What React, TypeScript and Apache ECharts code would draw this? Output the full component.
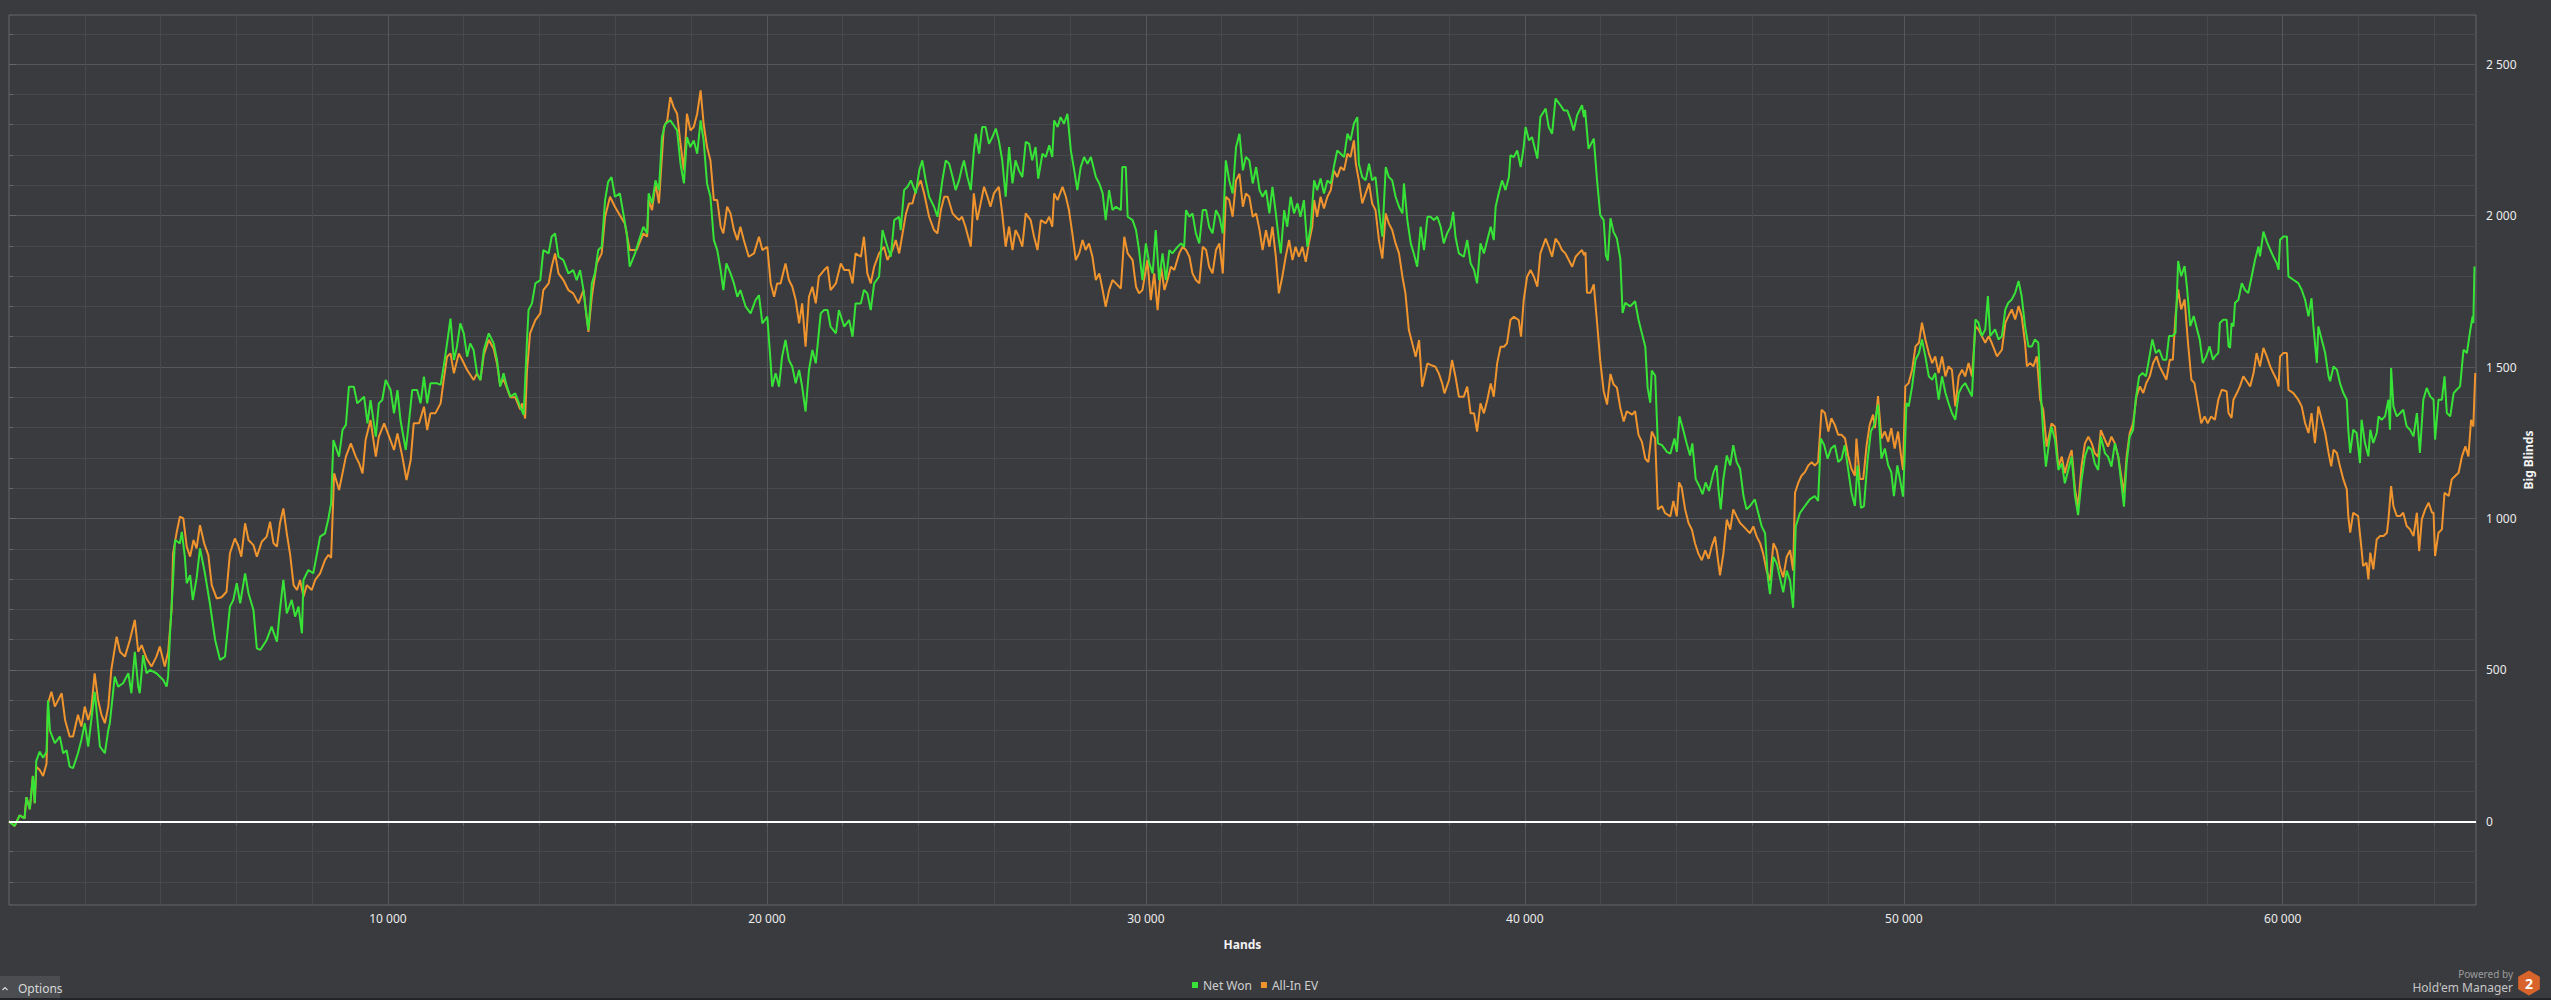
import React, { useEffect, useRef } from "react";
import * as echarts from "echarts";

// ---------- DATA (hands, big blinds) ----------
const netWonA = [[0,0],[150,-15],[280,20],[410,10],[460,80],[550,40],[630,150],[680,60],[720,200],[810,230],[900,210],[990,230],[1030,400],[1080,300],[1210,258],[1340,280],[1430,225],[1520,235],[1600,181],[1690,176],[1820,225],[1910,269],[2000,324],[2090,247],[2260,428],[2300,379],[2400,247],[2530,225],[2620,302],[2660,324],[2790,478],[2880,445],[3010,456],[3150,489],[3230,423],[3320,560],[3410,445],[3450,423],[3540,549],[3630,489],[3720,500],[3890,489],[4070,467],[4160,445],[4200,480],[4250,621],[4330,797],[4380,929],[4510,918],[4560,956],[4640,874],[4690,786],[4780,813],[4850,731],[4950,802],[5040,901],[5170,819],[5300,720],[5440,599],[5570,533],[5700,544],[5830,709],[5920,731],[6010,786],[6100,720],[6230,819],[6320,753],[6450,698],[6540,571],[6630,566],[6800,599],[6930,643],[7070,593],[7150,698],[7240,797],[7330,687],[7460,731],[7550,676],[7640,709],[7730,621],[7770,797],[7900,830],[8030,819],[8210,940],[8340,951],[8430,1000],[8500,1050],[8560,1259],[8710,1204],[8800,1292],[8890,1309],[8970,1435],[9100,1435],[9190,1380],[9280,1391],[9370,1402],[9460,1314],[9540,1391],[9680,1270],[9760,1380],[9850,1391],[9940,1457],[10070,1424],[10160,1347],[10250,1424],[10330,1325],[10470,1226],[10550,1314],[10640,1424],[10770,1424],[10860,1380],[10950,1468],[11035,1380],[11120,1446],[11300,1446],[11390,1441],[11470,1501],[11560,1578],[11650,1660],[11740,1523],[11820,1567],[11910,1644],[12000,1611],[12090,1534],[12170,1578],[12260,1556],[12350,1479],[12440,1457],[12530,1556],[12660,1611],[12790,1578],[12880,1523],[12960,1435],[13050,1479],[13140,1435],[13230,1402],[13360,1413],[13490,1369],[13580,1342],[13670,1589],[13710,1688],[13800,1710],[13890,1776],[14020,1787],[14100,1886],[14240,1875],[14320,1930],[14410,1941],[14500,1864],[14630,1853],[14760,1809],[14890,1820],[14980,1787],[15070,1820],[15160,1754],[15240,1666],[15290,1622],[15380,1776],[15460,1809],[15550,1886],[15640,1897],[15730,2051],[15810,2111],[15900,2127],[15990,2062],[16120,2073],[16210,2007],[16300,1941],[16380,1831],[16520,1875],[16600,1908],[16740,1963]];
const netWonB = [[16840,1941],[16880,2073],[16970,2040],[17060,2116],[17150,2084],[17230,2259],[17320,2303],[17450,2314],[17540,2298],[17630,2281],[17720,2171],[17810,2106],[17890,2259],[17980,2226],[18070,2248],[18160,2204],[18250,2314],[18330,2248],[18420,2106],[18510,2062],[18600,1919],[18690,1886],[18780,1820],[18850,1754],[18930,1842],[19040,1809],[19130,1776],[19220,1732],[19300,1754],[19440,1699],[19570,1677],[19700,1721],[19790,1737],[19880,1644],[20010,1666],[20100,1512],[20140,1435],[20230,1479],[20320,1435],[20400,1534],[20490,1589],[20580,1523],[20670,1501],[20760,1446],[20850,1490],[20930,1435],[21020,1353],[21110,1490],[21200,1556],[21290,1512],[21420,1677],[21510,1688],[21600,1688],[21680,1633],[21820,1611],[21900,1688],[22040,1633],[22170,1655],[22260,1600],[22340,1710],[22480,1710],[22560,1754],[22650,1743],[22740,1688],[22830,1776],[22960,1798],[23050,1952],[23180,1897],[23270,1864],[23360,1985],[23490,1996],[23530,1952],[23620,2084],[23710,2095],[23800,2116],[23930,2073],[24020,2149],[24100,2182],[24190,2116],[24280,2062],[24410,2029],[24500,1996],[24630,2116],[24720,2182],[24810,2171],[24900,2127],[24980,2084],[25070,2116],[25150,2160],[25200,2182],[25290,2127],[25380,2084],[25460,2210],[25510,2270],[25600,2204],[25680,2292],[25770,2292],[25860,2237],[25950,2259],[26040,2287],[26120,2248],[26210,2182],[26300,2062],[26390,2226],[26480,2106],[26560,2182],[26650,2149],[26740,2127],[26830,2243],[26920,2237],[27000,2182],[27090,2226],[27160,2122],[27270,2204],[27360,2193],[27450,2232],[27530,2193],[27580,2314],[27670,2292],[27750,2325],[27840,2303],[27930,2336],[28020,2215],[28110,2149],[28190,2084],[28280,2160],[28370,2193],[28460,2171],[28550,2193],[28680,2127],[28770,2106],[28860,2073],[28940,1985],[29030,2084],[29120,2018],[29210,2029],[29340,2018],[29380,2160],[29470,2160],[29520,1996],[29650,1985],[29740,1952],[29820,1886],[29910,1787],[30000,1908],[30090,1842],[30180,1809],[30260,1952],[30350,1787],[30440,1875],[30530,1787],[30620,1886],[30700,1875],[30840,1897],[30930,1908],[31010,1897],[31060,2018],[31150,1996],[31230,2007],[31320,1941],[31410,1908],[31500,2018],[31590,2018],[31670,1963],[31760,1941],[31850,2018],[31940,1996],[32030,1941],[32110,2182],[32200,2116],[32290,2073],[32380,2226],[32470,2270],[32560,2149],[32640,2193],[32730,2182],[32820,2106],[32910,2160],[33000,2084],[33080,2062],[33170,2084],[33260,2007]];
const netWonC = [[33340,2095],[33430,2007],[33510,1919],[33560,1875],[33650,2018],[33730,1963],[33820,2062],[33910,2007],[34000,2040],[34080,1996],[34170,2051],[34260,1897],[34350,1963],[34440,2116],[34520,2084],[34610,2122],[34700,2073],[34790,2116],[34880,2106],[34960,2160],[35050,2215],[35140,2204],[35230,2193],[35320,2270],[35400,2248],[35490,2303],[35580,2325],[35620,2171],[35710,2127],[35800,2116],[35890,2171],[35970,2116],[36060,2127],[36150,2018],[36240,1930],[36330,2160],[36410,2127],[36500,2116],[36590,2062],[36680,2029],[36770,2007],[36810,2106],[36900,1985],[36990,1908],[37070,1875],[37160,1831],[37250,1963],[37340,1886],[37430,1996],[37510,1996],[37600,1985],[37690,1996],[37780,1963],[37860,1908],[37950,1941],[38040,1963],[38110,2012],[38170,1930],[38260,1875],[38390,1864],[38480,1919],[38570,1842],[38660,1820],[38740,1776],[38830,1908],[38920,1875],[39010,1919],[39100,1963],[39180,1919],[39230,2029],[39310,2073],[39400,2116],[39490,2084],[39580,2127],[39620,2199],[39710,2193],[39800,2215],[39890,2160],[39970,2226],[40020,2292],[40110,2248],[40190,2259],[40330,2188],[40410,2325],[40550,2353],[40630,2292],[40720,2270],[40810,2386],[40940,2364],[41030,2347],[41120,2347],[41200,2320],[41290,2281],[41380,2331],[41510,2364],[41560,2325],[41590,2349],[41680,2220],[41820,2254],[41900,2125],[41990,2002],[42080,1985],[42140,1868],[42190,1851],[42260,1991],[42340,1946],[42430,1924],[42520,1857],[42580,1678],[42650,1712],[42780,1700],[42910,1717],[43000,1656],[43090,1611],[43180,1566],[43240,1432],[43310,1382],[43350,1488],[43440,1471],[43510,1248],[43620,1242],[43750,1220],[43840,1214],[43950,1264],[44010,1220],[44080,1337],[44170,1298],[44270,1248],[44360,1208],[44420,1248],[44510,1130],[44600,1108],[44690,1080],[44770,1119],[44860,1091],[44980,1153],[45060,1175],[45110,1097],[45170,1030],[45240,1130],[45330,1208],[45420,1175],[45500,1242],[45590,1186],[45680,1164],[45770,1074],[45850,1030],[45940,1041],[46070,1063],[46160,1018],[46250,974],[46340,951],[46410,806],[46470,750],[46560,873],[46650,851],[46730,806],[46820,756],[46910,828],[47000,795],[47080,705],[47150,974],[47260,1018],[47390,1041],[47520,1063],[47650,1074],[47740,1058],[47810,1264],[47900,1242],[47990,1197],[48080,1231],[48180,1242],[48270,1186],[48360,1197],[48440,1242],[48530,1164],[48620,1085],[48710,1041],[48780,1175],[48870,1035],[48950,1041],[49040,1186],[49130,1287],[49220,1309],[49320,1376],[49410,1197],[49500,1231],[49590,1175],[49670,1153],[49740,1074],[49830,1175],[49920,1116],[49980,1072],[50020,1193]];
const netWonD = [[50070,1381],[50130,1370],[50220,1436],[50310,1524],[50400,1546],[50480,1591],[50570,1535],[50660,1469],[50750,1458],[50830,1480],[50920,1392],[51010,1469],[51100,1414],[51180,1381],[51270,1348],[51360,1326],[51450,1414],[51540,1436],[51620,1447],[51710,1425],[51800,1403],[51890,1657],[51970,1646],[52060,1602],[52150,1624],[52220,1734],[52280,1602],[52410,1624],[52500,1591],[52590,1602],[52680,1690],[52760,1712],[52850,1723],[52940,1745],[53030,1784],[53110,1734],[53200,1635],[53290,1568],[53380,1568],[53460,1591],[53550,1580],[53600,1447],[53680,1281],[53750,1171],[53820,1237],[53900,1303],[53990,1259],[54080,1160],[54170,1182],[54250,1116],[54340,1160],[54430,1204],[54520,1072],[54600,1011],[54690,1127],[54780,1204],[54870,1237],[54960,1226],[55040,1182],[55130,1160],[55200,1270],[55310,1215],[55390,1204],[55480,1171],[55570,1248],[55660,1204],[55740,1116],[55810,1039],[55880,1182],[55960,1270],[56050,1292],[56120,1392],[56210,1469],[56300,1480],[56390,1469],[56470,1524],[56560,1591],[56650,1546],[56740,1557],[56840,1524],[56930,1524],[57000,1602],[57090,1602],[57170,1613],[57240,1850],[57320,1800],[57410,1833],[57470,1767],[57560,1635],[57650,1668],[57740,1624],[57810,1591],[57890,1513],[57980,1535],[58070,1568],[58160,1524],[58210,1535],[58300,1546],[58340,1645],[58430,1656],[58520,1656],[58570,1568],[58610,1563],[58650,1645],[58700,1634],[58740,1711],[58830,1722],[58920,1777],[59000,1755],[59090,1744],[59180,1799],[59270,1854],[59360,1898],[59400,1865],[59490,1947],[59580,1914],[59670,1887],[59750,1865],[59840,1843],[59890,1821],[59930,1920],[60020,1931],[60110,1931],[60150,1799],[60280,1788],[60410,1777],[60500,1755],[60590,1722],[60680,1667],[60760,1727],[60810,1634],[60900,1513],[60940,1634],[61030,1590],[61120,1546],[61210,1469],[61250,1453],[61340,1502],[61430,1491],[61510,1447],[61600,1414],[61690,1392],[61730,1293],[61780,1216],[61860,1293],[61950,1282],[62040,1183],[62080,1326],[62170,1249],[62260,1205],[62310,1293],[62390,1249],[62480,1282],[62530,1337],[62610,1326],[62700,1337],[62790,1392],[62830,1293],[62860,1497],[62920,1370],[63010,1337],[63100,1348],[63180,1359],[63270,1304],[63360,1293],[63450,1271],[63540,1348],[63620,1216],[63710,1392],[63800,1431],[63890,1403],[63980,1392],[64020,1260],[64110,1392],[64200,1392],[64270,1469],[64330,1348],[64420,1337],[64510,1414],[64590,1425],[64680,1436],[64770,1557],[64860,1546],[64950,1623],[65010,1667],[65030,1645],[65060,1832]];

const allInEvA = [[0,0],[150,-15],[280,20],[410,10],[460,80],[550,40],[630,150],[680,60],[720,180],[810,170],[900,150],[990,190],[1030,390],[1120,428],[1210,379],[1300,401],[1390,423],[1480,335],[1600,280],[1690,280],[1820,352],[1910,313],[2000,379],[2090,335],[2170,368],[2260,489],[2350,401],[2440,352],[2530,324],[2620,379],[2700,500],[2840,610],[2930,560],[3060,544],[3190,599],[3320,665],[3410,560],[3500,582],[3630,538],[3760,511],[3890,544],[3980,577],[4110,511],[4200,560],[4290,698],[4330,885],[4420,951],[4510,1006],[4600,1000],[4690,907],[4780,874],[4870,929],[4950,901],[5040,978],[5150,918],[5260,879],[5350,780],[5480,736],[5610,740],[5740,758],[5830,885],[5960,934],[6050,910],[6130,874],[6230,984],[6320,929],[6450,912],[6540,874],[6670,923],[6800,940],[6890,989],[6980,918],[7070,907],[7150,984],[7240,1033],[7330,951],[7420,880],[7510,780],[7600,764],[7680,797],[7770,742],[7860,780],[7990,764],[8080,797],[8210,819],[8340,863],[8430,880],[8500,870],[8580,1149],[8710,1094],[8800,1149],[8890,1204],[9020,1248],[9150,1204],[9240,1182],[9330,1149],[9410,1259],[9540,1325],[9680,1204],[9760,1270],[9900,1314],[10030,1270],[10160,1226],[10250,1281],[10380,1204],[10490,1127],[10600,1193],[10680,1314],[10820,1314],[10950,1369],[11035,1292],[11120,1347],[11250,1347],[11390,1380],[11470,1457],[11560,1534],[11650,1545],[11740,1479],[11870,1545],[11960,1523],[12090,1490],[12260,1457],[12350,1479],[12440,1457],[12530,1540],[12660,1590],[12790,1560],[12880,1510],[12960,1440],[13050,1460],[13140,1430],[13230,1400],[13360,1400],[13490,1360],[13540,1380],[13620,1330],[13670,1490],[13750,1611],[13890,1655],[14020,1677],[14100,1754],[14240,1776],[14320,1831],[14410,1875],[14500,1809],[14630,1787],[14760,1754],[14890,1743],[15030,1710],[15160,1754],[15290,1616],[15380,1732],[15510,1842],[15640,1875],[15730,1996],[15860,2062],[15990,2029],[16120,2001],[16250,1974],[16380,1886],[16560,1886],[16740,1941]];
const allInEvB = [[16840,1930],[16880,2051],[16970,2018],[17060,2106],[17150,2040],[17280,2292],[17370,2314],[17450,2391],[17540,2358],[17630,2336],[17720,2237],[17810,2149],[17890,2336],[17980,2281],[18070,2292],[18160,2336],[18250,2413],[18330,2303],[18420,2226],[18510,2182],[18600,2051],[18690,2051],[18780,1963],[18850,1941],[18950,2029],[19040,2007],[19130,1952],[19220,1919],[19300,1963],[19390,1919],[19520,1864],[19660,1875],[19790,1930],[19880,1886],[20010,1897],[20100,1776],[20190,1732],[20270,1776],[20360,1776],[20490,1842],[20580,1787],[20670,1765],[20760,1721],[20850,1644],[20930,1710],[21020,1567],[21110,1732],[21200,1765],[21290,1710],[21370,1798],[21510,1820],[21600,1831],[21680,1754],[21820,1776],[21950,1842],[22040,1820],[22170,1820],[22260,1776],[22340,1875],[22480,1864],[22560,1930],[22650,1809],[22740,1776],[22830,1831],[22960,1875],[23090,1897],[23180,1853],[23310,1886],[23400,1919],[23490,1875],[23580,1941],[23670,2007],[23750,2040],[23840,2040],[23930,2084],[24060,2116],[24150,2073],[24280,1996],[24410,1952],[24500,1941],[24590,2018],[24680,2062],[24770,2062],[24900,2007],[24980,1996],[25070,1985],[25150,1996],[25240,1963],[25380,1897],[25460,2073],[25550,1985],[25640,2040],[25730,2095],[25820,2062],[25900,2029],[25990,2073],[26120,2095],[26210,2007],[26300,1897],[26390,1963],[26480,1886],[26560,1952],[26650,1930],[26740,1897],[26830,2007],[26960,1985],[27050,1930],[27140,1886],[27230,1985],[27360,1974],[27450,1996],[27530,1963],[27580,2073],[27670,2051],[27800,2095],[27890,2062],[27970,2018],[28060,1941],[28150,1853],[28240,1875],[28330,1919],[28410,1886],[28500,1908],[28590,1864],[28680,1787],[28770,1809],[28860,1754],[28940,1699],[29030,1754],[29120,1787],[29210,1776],[29340,1759],[29430,1930],[29520,1875],[29650,1853],[29740,1765],[29820,1743],[29910,1754],[30040,1853],[30130,1721],[30220,1809],[30310,1688],[30400,1831],[30490,1754],[30570,1787],[30660,1831],[30750,1820],[30880,1875],[30970,1897],[31060,1886],[31150,1864],[31230,1809],[31320,1787],[31410,1776],[31500,1897],[31590,1886],[31670,1831],[31760,1809],[31850,1886],[31940,1908],[32030,1809],[32110,2062],[32200,2051],[32290,1996],[32380,2116],[32470,2138],[32560,2029],[32640,2073],[32730,2062],[32820,1996],[32910,2007],[33000,1952],[33080,1886],[33170,1952],[33260,1897]];
const allInEvC = [[33340,1963],[33430,1864],[33510,1743],[33600,1798],[33690,1864],[33780,1919],[33870,1853],[33950,1897],[34040,1864],[34130,1897],[34220,1847],[34300,1908],[34390,1963],[34440,2051],[34520,1996],[34610,2062],[34700,2023],[34790,2062],[34880,2084],[34960,2149],[35050,2127],[35140,2160],[35230,2149],[35320,2204],[35400,2193],[35490,2248],[35540,2171],[35620,2116],[35710,2040],[35800,2073],[35890,2106],[35970,2040],[36060,2018],[36150,1919],[36240,1858],[36330,2007],[36410,1974],[36500,1952],[36590,1908],[36680,1875],[36770,1798],[36850,1743],[36940,1622],[37030,1578],[37120,1534],[37210,1589],[37290,1435],[37430,1512],[37510,1507],[37640,1501],[37730,1479],[37820,1446],[37880,1413],[38000,1457],[38080,1523],[38170,1468],[38260,1402],[38390,1402],[38480,1435],[38570,1347],[38660,1347],[38740,1287],[38830,1380],[38920,1347],[39010,1391],[39100,1446],[39180,1402],[39270,1512],[39360,1567],[39450,1567],[39530,1578],[39620,1655],[39710,1666],[39840,1655],[39900,1600],[39970,1721],[40060,1798],[40150,1820],[40240,1798],[40330,1765],[40410,1875],[40550,1924],[40630,1897],[40720,1864],[40810,1924],[40900,1908],[40980,1886],[41070,1875],[41160,1853],[41250,1831],[41340,1864],[41420,1875],[41510,1886],[41560,1869],[41600,1879],[41640,1745],[41730,1745],[41820,1773],[41900,1656],[41990,1521],[42080,1421],[42170,1376],[42260,1477],[42340,1443],[42430,1432],[42520,1365],[42610,1320],[42690,1354],[42830,1343],[42910,1354],[43000,1276],[43090,1253],[43180,1197],[43260,1186],[43350,1287],[43440,1264],[43510,1030],[43620,1041],[43700,1018],[43840,1007],[43920,1058],[44010,1007],[44070,1119],[44140,1102],[44230,1030],[44320,985],[44410,963],[44490,918],[44580,884],[44670,862],[44760,895],[44850,867],[44930,907],[45020,940],[45110,851],[45150,812],[45240,884],[45330,996],[45420,963],[45500,1030],[45590,1007],[45680,985],[45770,974],[45850,963],[45940,951],[46030,974],[46120,940],[46210,918],[46290,884],[46380,828],[46470,795],[46560,918],[46650,895],[46730,840],[46820,806],[46910,873],[47000,895],[47080,828],[47130,1085],[47220,1119],[47300,1141],[47390,1153],[47480,1175],[47570,1186],[47650,1175],[47740,1186],[47830,1359],[47920,1348],[48010,1287],[48090,1331],[48180,1309],[48270,1276],[48360,1276],[48450,1264],[48530,1208],[48620,1164],[48710,1141],[48750,1264],[48840,1130],[48930,1130],[49020,1242],[49100,1309],[49190,1343],[49240,1298],[49320,1404],[49410,1264],[49500,1287],[49590,1253],[49670,1298],[49760,1231],[49850,1287],[49920,1215],[49980,1160]];
const allInEvD = [[50040,1436],[50130,1447],[50220,1491],[50310,1568],[50400,1580],[50480,1646],[50570,1591],[50660,1546],[50750,1513],[50830,1535],[50920,1480],[51010,1535],[51100,1469],[51180,1502],[51270,1491],[51360,1370],[51450,1469],[51540,1491],[51620,1469],[51710,1513],[51800,1469],[51890,1635],[51970,1624],[52060,1602],[52150,1580],[52240,1602],[52320,1580],[52460,1535],[52590,1557],[52680,1646],[52760,1668],[52850,1690],[52940,1657],[53030,1701],[53110,1668],[53200,1580],[53250,1502],[53330,1513],[53420,1502],[53510,1535],[53600,1392],[53680,1359],[53770,1237],[53900,1314],[53990,1303],[54080,1171],[54170,1204],[54250,1149],[54340,1193],[54430,1226],[54520,1094],[54600,1039],[54690,1171],[54780,1248],[54870,1270],[54960,1248],[55040,1215],[55130,1204],[55200,1292],[55310,1259],[55390,1237],[55480,1270],[55570,1248],[55660,1204],[55740,1138],[55810,1083],[55880,1204],[55960,1281],[56050,1314],[56140,1403],[56230,1436],[56320,1414],[56400,1447],[56490,1469],[56580,1513],[56670,1535],[56750,1502],[56840,1480],[56930,1458],[57020,1524],[57100,1524],[57170,1668],[57240,1756],[57320,1690],[57410,1723],[57500,1580],[57590,1458],[57670,1447],[57760,1381],[57850,1314],[57940,1337],[58020,1314],[58110,1337],[58210,1326],[58300,1392],[58390,1425],[58520,1420],[58570,1348],[58650,1332],[58700,1392],[58790,1414],[58870,1436],[58960,1469],[59050,1453],[59140,1436],[59230,1480],[59310,1546],[59400,1502],[59490,1563],[59580,1535],[59670,1502],[59750,1480],[59840,1458],[59890,1436],[59930,1535],[60020,1546],[60110,1546],[60150,1425],[60280,1414],[60410,1392],[60500,1370],[60590,1315],[60680,1282],[60760,1348],[60850,1249],[60940,1370],[61030,1326],[61120,1282],[61210,1216],[61280,1172],[61340,1227],[61430,1216],[61510,1172],[61600,1129],[61690,1096],[61730,1008],[61780,953],[61860,1019],[61990,1008],[62080,898],[62120,843],[62210,854],[62260,799],[62310,887],[62390,832],[62480,931],[62570,942],[62660,942],[62750,953],[62790,997],[62860,1107],[62920,1041],[63010,1008],[63100,1008],[63180,1019],[63270,975],[63360,964],[63450,942],[63540,1019],[63600,892],[63670,997],[63760,1030],[63850,1052],[63940,1019],[63980,1019],[64020,876],[64110,953],[64200,964],[64270,1085],[64380,1074],[64460,1129],[64550,1140],[64640,1151],[64730,1205],[64820,1238],[64900,1205],[64970,1326],[65030,1304],[65080,1480]];

const seriesNames = ["Net Won", "All-In EV"];
const xMajorTicks = [10000, 20000, 30000, 40000, 50000, 60000];
const xMinorTicks = [2000, 4000, 6000, 8000, 12000, 14000, 16000, 18000, 22000, 24000, 26000, 28000, 32000, 34000, 36000, 38000, 42000, 44000, 46000, 48000, 52000, 54000, 56000, 58000, 62000, 64000];
const yMajorTicks = [0, 500, 1000, 1500, 2000, 2500];
const yMinorTicks = [-200, -100, 100, 200, 300, 400, 600, 700, 800, 900, 1100, 1200, 1300, 1400, 1600, 1700, 1800, 1900, 2100, 2200, 2300, 2400, 2600];
const X_MIN = 0;
const X_MAX = 65100;
const Y_MIN = -276;
const Y_MAX = 2662;

// ---------- STYLE ----------
const FONT = "'Segoe UI', 'Noto Sans', 'Open Sans', sans-serif";
const BG = "#393b3f";
const MAJOR = "#55575b";
const MINOR = "#46484c";
const BORDER = "#65676b";
const GREEN = "#38e338";
const ORANGE = "#f0942e";
const LABEL = "#ececec";

const fmt = (v: number) => String(v).replace(/\B(?=(\d{3})+(?!\d))/g, " ");

export default function App() {
  const ref = useRef<HTMLDivElement>(null);
  useEffect(() => {
    if (!ref.current) return;
    const chart = echarts.init(ref.current, null, { renderer: "svg" });
    const netWon = [...netWonA, ...netWonB, ...netWonC, ...netWonD];
    const allInEv = [...allInEvA, ...allInEvB, ...allInEvC, ...allInEvD];

    const baseX = {
      type: "value",
      min: X_MIN,
      max: X_MAX,
      position: "bottom",
      axisLine: { show: false },
      minorTick: { show: false },
      minorSplitLine: { show: false },
    };
    const baseY = {
      type: "value",
      min: Y_MIN,
      max: Y_MAX,
      position: "right",
      axisLine: { show: false },
      minorTick: { show: false },
      minorSplitLine: { show: false },
    };

    const hx = 2529, hy = 983, hr = 12.5;
    const hex = [0, 1, 2, 3, 4, 5].map((i) => {
      const a = -Math.PI / 2 + (i * Math.PI) / 3;
      return [hx + hr * Math.cos(a), hy + hr * Math.sin(a)];
    });

    chart.setOption({
      animation: false,
      backgroundColor: BG,
      textStyle: { fontFamily: FONT },
      grid: {
        left: 9,
        right: 75,
        top: 15,
        bottom: 95,
        show: true,
        borderColor: BORDER,
        borderWidth: 1,
        backgroundColor: "transparent",
        containLabel: false,
        outerBoundsMode: "none",
      },
      legend: {
        data: seriesNames,
        left: 1192,
        top: 979,
        padding: 0,
        itemGap: 9,
        itemWidth: 6,
        itemHeight: 6,
        icon: "rect",
        selectedMode: false,
        textStyle: { color: "#cfcfcf", fontSize: 12, fontFamily: FONT },
      },
      xAxis: [
        {
          ...baseX,
          axisTick: { show: true, customValues: xMajorTicks, length: 4, lineStyle: { color: BORDER } },
          axisLabel: { show: true, customValues: xMajorTicks, formatter: fmt, color: LABEL, fontSize: 12, margin: 7, fontFamily: FONT },
          splitLine: { show: true, lineStyle: { color: MAJOR, width: 1 } },
        },
        {
          ...baseX,
          axisTick: { show: true, customValues: xMinorTicks, length: 4, lineStyle: { color: BORDER } },
          axisLabel: { show: false },
          splitLine: { show: true, lineStyle: { color: MINOR, width: 1 } },
        },
      ],
      yAxis: [
        {
          ...baseY,
          axisTick: { show: true, customValues: yMajorTicks, length: 7, lineStyle: { color: BORDER } },
          axisLabel: { show: true, customValues: yMajorTicks, formatter: fmt, color: LABEL, fontSize: 12, margin: 10, fontFamily: FONT },
          splitLine: { show: true, lineStyle: { color: MAJOR, width: 1 } },
        },
        {
          ...baseY,
          axisTick: { show: true, customValues: yMinorTicks, length: 4, lineStyle: { color: BORDER } },
          axisLabel: { show: false },
          splitLine: { show: true, lineStyle: { color: MINOR, width: 1 } },
        },
      ],
      series: [
        {
          name: seriesNames[1],
          type: "line",
          xAxisIndex: 0,
          yAxisIndex: 0,
          data: allInEv,
          showSymbol: false,
          symbol: "none",
          color: ORANGE,
          itemStyle: { color: ORANGE },
          lineStyle: { color: ORANGE, width: 2 },
          emphasis: { disabled: true },
          silent: true,
        },
        {
          name: seriesNames[0],
          type: "line",
          xAxisIndex: 0,
          yAxisIndex: 0,
          data: netWon,
          showSymbol: false,
          symbol: "none",
          color: GREEN,
          itemStyle: { color: GREEN },
          lineStyle: { color: GREEN, width: 2 },
          emphasis: { disabled: true },
          silent: true,
          markLine: {
            silent: true,
            symbol: ["none", "none"],
            label: { show: false },
            lineStyle: { color: "#ffffff", width: 2, type: "solid" },
            emphasis: { disabled: true },
            data: [{ yAxis: 0 }],
          },
        },
      ],
      graphic: [
        { type: "text", x: 1242.5, y: 944, style: { text: "Hands", fill: "#f2f2f2", font: `bold 12px ${FONT}`, align: "center", verticalAlign: "middle" } },
        { type: "text", x: 2528, y: 460, rotation: Math.PI / 2, style: { text: "Big Blinds", fill: "#f2f2f2", font: `bold 12px ${FONT}`, align: "center", verticalAlign: "middle" } },
        { type: "rect", shape: { x: 0, y: 976, width: 60, height: 22 }, style: { fill: "#4b4d51" } },
        { type: "polyline", shape: { points: [[2.5, 990], [5, 987.5], [7.5, 990]] }, style: { stroke: "#d8d8d8", lineWidth: 1.2, fill: "none" } },
        { type: "text", x: 18, y: 988, style: { text: "Options", fill: "#d8d8d8", font: `12px ${FONT}`, align: "left", verticalAlign: "middle" } },
        { type: "rect", shape: { x: 0, y: 998, width: 2551, height: 2 }, style: { fill: "#222326" } },
        { type: "text", x: 2513, y: 974, style: { text: "Powered by", fill: "#9c9c9c", font: `10px ${FONT}`, align: "right", verticalAlign: "middle" } },
        { type: "text", x: 2513, y: 987, style: { text: "Hold'em Manager", fill: "#c6c6c6", font: `12px ${FONT}`, align: "right", verticalAlign: "middle" } },
        { type: "polygon", shape: { points: hex }, style: { fill: "#d8642c" } },
        { type: "text", x: hx, y: hy + 0.5, style: { text: "2", fill: "#ffffff", font: `bold 14px ${FONT}`, align: "center", verticalAlign: "middle" } },
      ],
    });
    return () => chart.dispose();
  }, []);

  return (
    <div
      ref={ref}
      style={{ position: "fixed", left: 0, top: 0, width: 2551, height: 1000, background: BG }}
    />
  );
}
